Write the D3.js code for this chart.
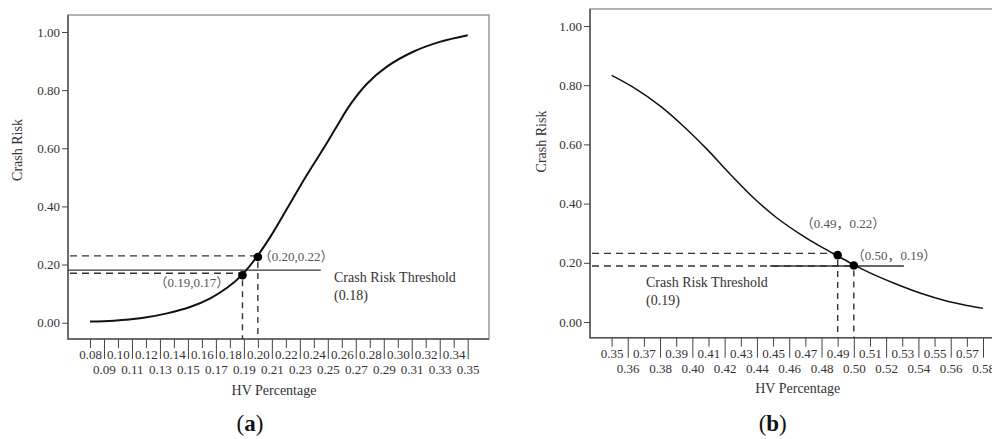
<html>
<head>
<meta charset="utf-8">
<script src="https://d3js.org/d3.v7.min.js"></script>
<style>
body { margin: 0; background: #ffffff; }
text { font-family: "Liberation Serif", "Noto Sans CJK SC", serif; fill: #333; }
</style>
</head>
<body>
<div id="chart"></div>
<script>
// ---- data ----
// (a) crash risk vs HV percentage, rising curve
var hvA   = [0.080, 0.097, 0.116, 0.135, 0.152, 0.166, 0.178, 0.188, 0.199, 0.209, 0.223, 0.235, 0.247, 0.257, 0.266, 0.278, 0.292, 0.311, 0.330, 0.350];
var riskA = [0.004, 0.007, 0.015, 0.032, 0.055, 0.084, 0.120, 0.161, 0.225, 0.296, 0.410, 0.508, 0.600, 0.680, 0.750, 0.822, 0.880, 0.932, 0.966, 0.989];
// (b) falling curve
var hvB   = [0.350, 0.363, 0.380, 0.394, 0.409, 0.423, 0.438, 0.452, 0.467, 0.479, 0.490, 0.500, 0.510, 0.525, 0.541, 0.558, 0.570, 0.580];
var riskB = [0.833, 0.794, 0.730, 0.664, 0.584, 0.502, 0.419, 0.353, 0.296, 0.256, 0.223, 0.193, 0.166, 0.131, 0.098, 0.070, 0.056, 0.046];

var yLabels  = ["0.00", "0.20", "0.40", "0.60", "0.80", "1.00"];
var xLabelsA = ["0.08","0.09","0.10","0.11","0.12","0.13","0.14","0.15","0.16","0.17","0.18","0.19","0.20","0.21",
                "0.22","0.23","0.24","0.25","0.26","0.27","0.28","0.29","0.30","0.31","0.32","0.33","0.34","0.35"];
var xLabelsB = ["0.35","0.36","0.37","0.38","0.39","0.40","0.41","0.42","0.43","0.44","0.45","0.46",
                "0.47","0.48","0.49","0.50","0.51","0.52","0.53","0.54","0.55","0.56","0.57","0.58"];

// marked points: hv, risk of dot, risk of the dashed guide
var markHvA    = [0.189, 0.200];
var markRiskA  = [0.163, 0.226];
var guideRiskA = [0.170, 0.230];
var markTextA  = ["（0.19,0.17）", "（0.20,0.22）"];
var markHvB    = [0.490, 0.500];
var markRiskB  = [0.226, 0.191];
var guideRiskB = [0.232, 0.189];
var markTextB  = ["（0.49，0.22）", "（0.50，0.19）"];

// threshold lines: value and hv extent of the solid part
var thresholdA = 0.181, threshSpanA = [0.0643, 0.245];
var thresholdB = 0.189, threshSpanB = [0.448, 0.531];

var svg = d3.select("#chart")
  .append("svg")
    .attr("width", 992)
    .attr("height", 439);

function drawPanel(p) {
  var g = svg.append("g");
  var f = p.frame;
  var x = d3.scaleLinear().domain(p.xDomain).range(p.xRange);
  var y = d3.scaleLinear().domain([0, 1]).range(p.yRange);

  // frame
  g.append("rect")
    .attr("x", f.left).attr("y", f.top)
    .attr("width", f.right - f.left).attr("height", f.bottom - f.top)
    .attr("fill", "none").attr("stroke", "#9a9a9a").attr("stroke-width", 1.5);
  g.append("path")
    .attr("d", "M" + f.left + "," + f.top + "V" + f.bottom + "H" + f.right)
    .attr("fill", "none").attr("stroke", "#555").attr("stroke-width", 1.5);

  // y axis
  var yAxis = g.append("g")
    .attr("transform", "translate(" + f.left + ",0)")
    .call(d3.axisLeft(y)
      .tickValues(yLabels.map(Number))
      .tickFormat(function(d, i) { return yLabels[i]; })
      .tickSize(6).tickPadding(2));
  yAxis.select(".domain").remove();
  yAxis.attr("font-size", 13).attr("font-family", null);
  yAxis.selectAll("line").attr("stroke", "#444");

  // x axis, two staggered rows of labels
  var xAxis = g.append("g")
    .attr("transform", "translate(0," + f.bottom + ")")
    .call(d3.axisBottom(x)
      .tickValues(p.xLabels.map(Number))
      .tickFormat(function(d, i) { return p.xLabels[i]; })
      .tickSize(9));
  xAxis.select(".domain").remove();
  xAxis.attr("font-size", 13).attr("font-family", null);
  xAxis.selectAll(".tick line").attr("stroke", "#444")
    .attr("y2", function(d, i) { return i % 2 ? 20 : 9; });
  xAxis.selectAll(".tick text")
    .attr("y", function(d, i) { return i % 2 ? 35 : 20; })
    .attr("dy", 0);

  // axis titles
  g.append("text")
    .attr("transform", "translate(" + p.yTitle[0] + "," + p.yTitle[1] + ") rotate(-90)")
    .attr("text-anchor", "middle").attr("font-size", 14)
    .text("Crash Risk");
  g.append("text")
    .attr("x", p.xTitle[0]).attr("y", p.xTitle[1])
    .attr("text-anchor", "middle").attr("font-size", 14)
    .text("HV Percentage");

  // threshold (solid)
  g.append("line")
    .attr("x1", x(p.threshSpan[0])).attr("x2", x(p.threshSpan[1]))
    .attr("y1", y(p.threshold)).attr("y2", y(p.threshold))
    .attr("stroke", "#333").attr("stroke-width", 1.4);

  // dashed guides
  p.markHv.forEach(function(h, i) {
    g.append("line")
      .attr("x1", f.left + 2).attr("x2", x(h))
      .attr("y1", y(p.guideRisk[i])).attr("y2", y(p.guideRisk[i]))
      .attr("stroke", "#333").attr("stroke-width", 1.4).attr("stroke-dasharray", "7,5");
    g.append("line")
      .attr("x1", x(h)).attr("x2", x(h))
      .attr("y1", y(p.markRisk[i]) + 5).attr("y2", f.bottom)
      .attr("stroke", "#333").attr("stroke-width", 1.4).attr("stroke-dasharray", "6,5");
  });

  // curve
  var pts = p.hv.map(function(h, i) { return [h, p.risk[i]]; });
  g.append("path")
    .datum(pts)
    .attr("fill", "none")
    .attr("stroke", "#111")
    .attr("stroke-width", p.lineWidth)
    .attr("d", d3.line()
      .x(function(d) { return x(d[0]); })
      .y(function(d) { return y(d[1]); })
      .curve(d3.curveCatmullRom.alpha(0.5)));

  // dots
  g.selectAll("circle.mark")
    .data(p.markHv)
    .enter()
    .append("circle")
      .attr("cx", function(d) { return x(d); })
      .attr("cy", function(d, i) { return y(p.markRisk[i]); })
      .attr("r", 4.3)
      .attr("fill", "#000");

  // point labels
  p.markHv.forEach(function(h, i) {
    g.append("text")
      .attr("x", x(h) + p.labelOff[i][0])
      .attr("y", y(p.markRisk[i]) + p.labelOff[i][1])
      .attr("font-size", 13)
      .style("fill", "#555")
      .text(p.markText[i]);
  });

  // threshold text
  g.append("text").attr("x", p.threshText[0]).attr("y", p.threshText[1])
    .attr("font-size", 14).text("Crash Risk Threshold");
  g.append("text").attr("x", p.threshText[0]).attr("y", p.threshText[1] + 18)
    .attr("font-size", 14).text("(" + p.threshold.toFixed(2) + ")");

  // panel letter
  var lt = g.append("text")
    .attr("x", p.letter[0]).attr("y", p.letter[1])
    .attr("text-anchor", "middle").attr("font-size", 23)
    .style("fill", "#111");
  lt.append("tspan").text("(");
  lt.append("tspan").attr("font-weight", "bold").text(p.letterText);
  lt.append("tspan").text(")");
}

drawPanel({
  frame: {left: 68, top: 15, right: 489, bottom: 339},
  xDomain: [0.08, 0.35], xRange: [90, 467.7], yRange: [322.7, 32],
  xLabels: xLabelsA, hv: hvA, risk: riskA, lineWidth: 2,
  markHv: markHvA, markRisk: markRiskA, guideRisk: guideRiskA, markText: markTextA,
  labelOff: [[-88, 12], [1, 4]],
  threshold: thresholdA, threshSpan: threshSpanA, threshText: [334, 281.5],
  yTitle: [22, 150], xTitle: [274, 395], letter: [250, 431], letterText: "a"
});

drawPanel({
  frame: {left: 590, top: 9, right: 1000, bottom: 337.7},
  xDomain: [0.35, 0.58], xRange: [611.6, 983], yRange: [322, 26],
  xLabels: xLabelsB, hv: hvB, risk: riskB, lineWidth: 1.5,
  markHv: markHvB, markRisk: markRiskB, guideRisk: guideRiskB, markText: markTextB,
  labelOff: [[-37, -27], [-2, -5.5]],
  threshold: thresholdB, threshSpan: threshSpanB, threshText: [646, 287],
  yTitle: [545.5, 141.5], xTitle: [797.7, 393], letter: [772.7, 431], letterText: "b"
});
</script>
</body>
</html>
